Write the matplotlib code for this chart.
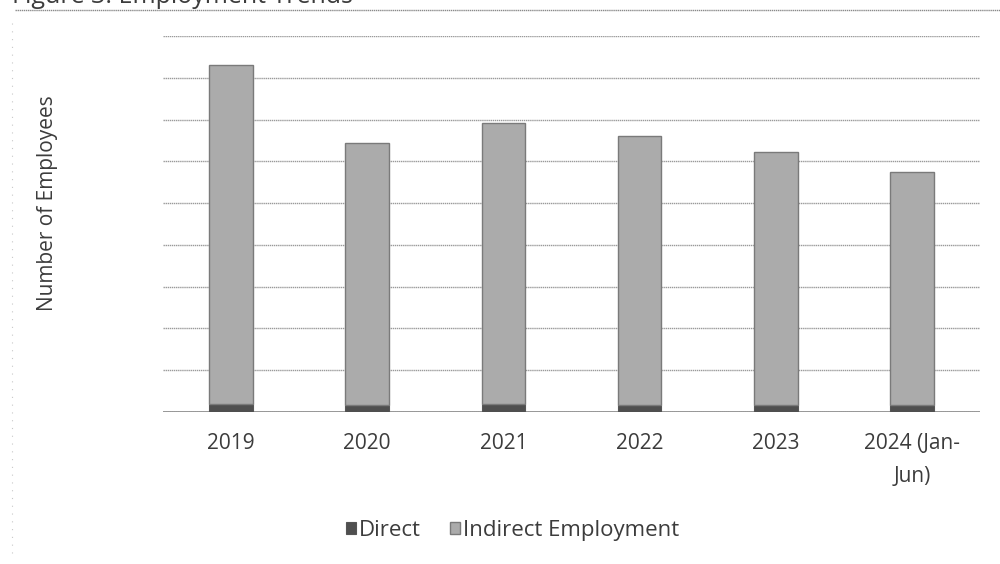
import matplotlib.pyplot as plt
import numpy as np
from matplotlib.lines import Line2D

plt.rcParams['font.family'] = ['Open Sans', 'DejaVu Sans']

years = ["2019", "2020", "2021", "2022", "2023", "2024 (Jan-\nJun)"]
direct = [900, 850, 900, 850, 850, 800]
indirect = [40650, 31350, 33700, 32200, 30300, 27950]

fig = plt.figure(figsize=(10, 5.64), dpi=100)
ax = fig.add_axes([0.163, 0.2695, 0.817, 0.6665])

x = np.arange(len(years))
ax.bar(x, direct, width=0.32, color='#4f4f4f', edgecolor='#555555', linewidth=0.8, zorder=3,
       label="Direct")
ax.bar(x, indirect, width=0.32, bottom=direct, color='#ababab', edgecolor='#7a7a7a',
       linewidth=1.0, zorder=3, label="Indirect Employment")

ax.set_xlim(-0.5, len(years) - 0.5)
ax.set_ylim(0, 45000)
ax.set_yticks(np.arange(0, 45001, 5000))
ax.set_yticklabels([])
ax.tick_params(axis='y', length=0)
ax.tick_params(axis='x', length=0, pad=15, labelsize=15, labelcolor='#3c3c3c')
ax.set_xticks(x)
ax.set_xticklabels(years, linespacing=1.75)
ax.grid(axis='y', color='#9a9a9a', linewidth=1.0, linestyle=(0, (1, 0.5)), zorder=0)
for s in ax.spines.values():
    s.set_visible(False)
ax.axhline(0, color='#888888', linewidth=1.2, zorder=2)

fig.text(0.048, 0.64, "Number of Employees", rotation=90, ha='center', va='center',
         fontsize=15, color='#3c3c3c')

ax.legend(loc='center', bbox_to_anchor=(0.428, -0.315), ncol=2, frameon=False,
          fontsize=16, labelcolor='#3c3c3c', handlelength=0.45, handleheight=0.45,
          handletextpad=0.15, columnspacing=1.3)

# cut-off title and page rule at the top of the scan
fig.text(0.012, 1 - 3 / 564, "Figure 3: Employment Trends", va='baseline', fontsize=18,
         color='#3c3c3c')
fig.add_artist(Line2D([0.015, 1.0], [1 - 10 / 564, 1 - 10 / 564], color='#8a8a8a',
                      linewidth=1.0, linestyle=(0, (1, 0.5))))
fig.add_artist(Line2D([0.012, 0.012], [0.02, 0.97], color='#c8c8c8',
                      linewidth=0.8, linestyle=(0, (1, 6))))

fig.savefig("out.png", dpi=100, facecolor='white')
